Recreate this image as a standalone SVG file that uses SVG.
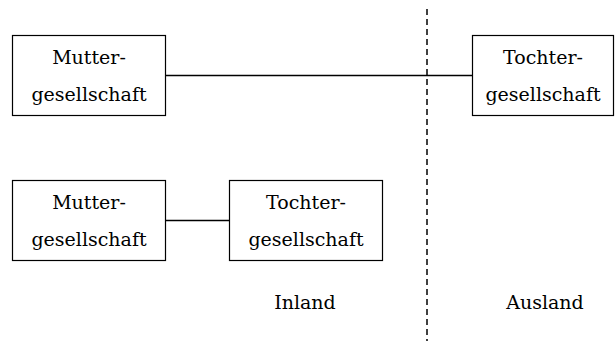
<svg xmlns="http://www.w3.org/2000/svg" width="615" height="343" viewBox="0 0 615 343">
<style>
.box{fill:#fff;stroke:#000;stroke-width:1.2}
.t{font-family:'DejaVu Serif',serif;font-size:19px;fill:#000;text-anchor:middle}
.c{stroke:#000;stroke-width:1.5;fill:none}
</style>
<rect width="615" height="343" fill="#fff"/>
<g id="connectors">
<line class="c" x1="427" y1="9" x2="427" y2="341" stroke-dasharray="6 4"/>
<line class="c" x1="165.5" y1="75.5" x2="472.5" y2="75.5"/>
<line class="c" x1="165.5" y1="220.5" x2="229.5" y2="220.5"/>
</g>
<g id="mutter1">
<rect class="box" x="12.5" y="35.5" width="153" height="80"/>
<text class="t" x="89" y="64">Mutter-</text>
<text class="t" x="89" y="101">gesellschaft</text>
</g>
<g id="tochter1">
<rect class="box" x="472.5" y="35.5" width="141" height="80"/>
<text class="t" x="543" y="64">Tochter-</text>
<text class="t" x="543" y="101">gesellschaft</text>
</g>
<g id="mutter2">
<rect class="box" x="12.5" y="180.5" width="153" height="80"/>
<text class="t" x="89" y="209">Mutter-</text>
<text class="t" x="89" y="246">gesellschaft</text>
</g>
<g id="tochter2">
<rect class="box" x="229.5" y="180.5" width="153" height="80"/>
<text class="t" x="306" y="209">Tochter-</text>
<text class="t" x="306" y="246">gesellschaft</text>
</g>
<g id="labels">
<text class="t" x="305" y="309">Inland</text>
<text class="t" x="545" y="309">Ausland</text>
</g>
</svg>
